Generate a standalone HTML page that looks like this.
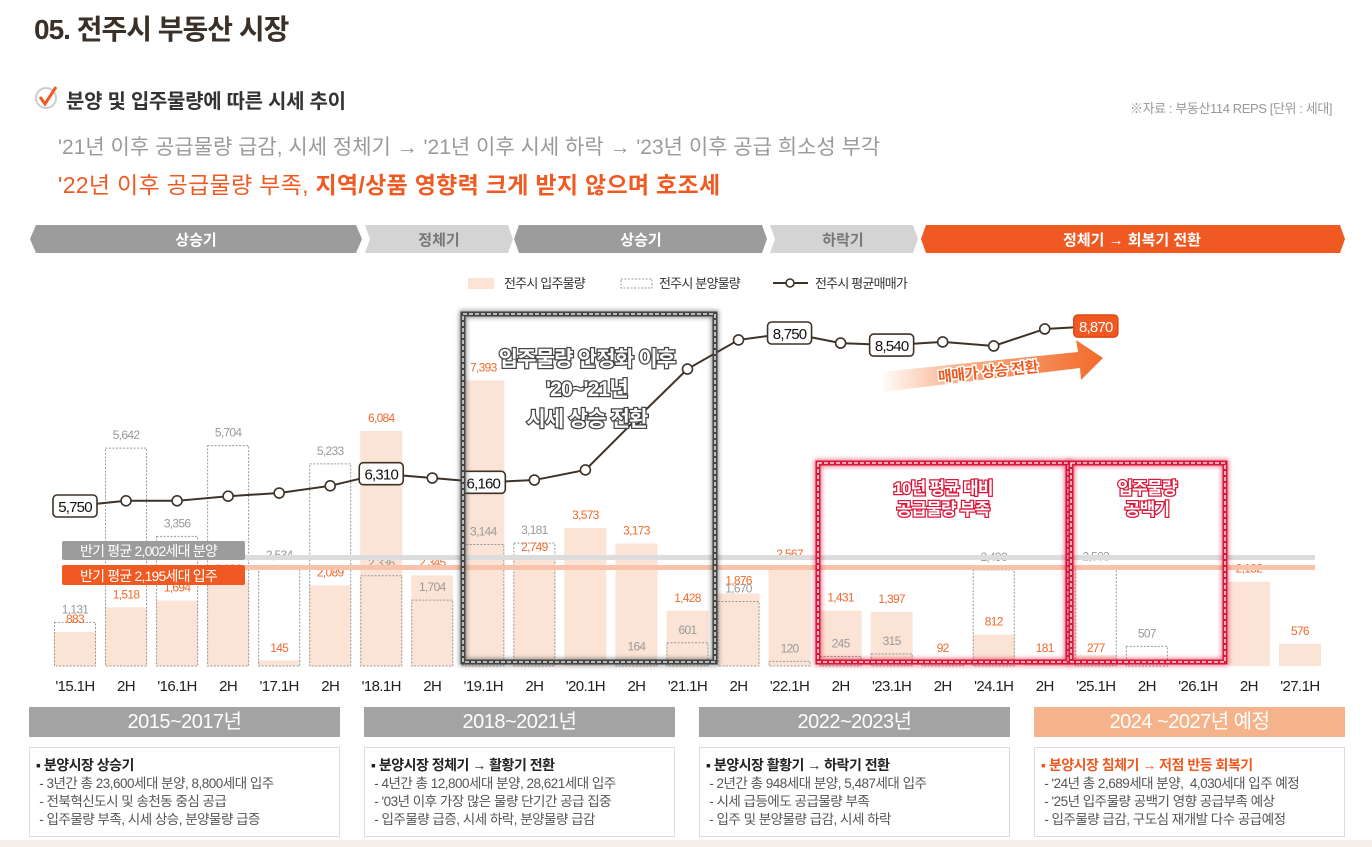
<!DOCTYPE html>
<html><head><meta charset="utf-8">
<style>
html,body{margin:0;padding:0;background:#fff;}
body{width:1372px;height:847px;position:relative;overflow:hidden;font-family:"Liberation Sans","Noto Sans CJK KR",sans-serif;}
.abs{position:absolute;white-space:nowrap;}
.hdr{position:absolute;top:707px;height:30px;line-height:30px;color:#fff;font-size:20px;text-align:center;background:#a3a3a3;letter-spacing:-0.5px;}
.box{position:absolute;top:747px;height:90px;border:1px solid #dcdcdc;box-sizing:border-box;padding:8px 0 0 6px;font-size:13.5px;line-height:18px;color:#555;letter-spacing:-0.5px;}
.box b{color:#222;font-size:14px;}
</style></head><body>
<div class="abs" style="left:34px;top:8px;font-size:28px;font-weight:bold;color:#3a3028;letter-spacing:-1px;">05. 전주시 부동산 시장</div>
<svg class="abs" style="left:34px;top:84px" width="28" height="28" viewBox="0 0 28 28"><circle cx="12" cy="14" r="10" fill="none" stroke="#ccc" stroke-width="2"/><path d="M6 13 L11 20 L22 3" fill="none" stroke="#f05a22" stroke-width="3"/></svg>
<div class="abs" style="left:66px;top:85px;font-size:20px;font-weight:bold;color:#333;letter-spacing:-0.3px;">분양 및 입주물량에 따른 시세 추이</div>
<div class="abs" style="left:1130px;top:98px;font-size:13px;color:#999;letter-spacing:-0.4px;">※자료 : 부동산114 REPS [단위 : 세대]</div>
<div class="abs" style="left:58px;top:131px;font-size:21px;color:#9a9a9a;letter-spacing:0px;">'21년 이후 공급물량 급감, 시세 정체기 → '21년 이후 시세 하락 → '23년 이후 공급 희소성 부각</div>
<div class="abs" style="left:58px;top:166px;font-size:23px;color:#f05a22;letter-spacing:0.3px;">'22년 이후 공급물량 부족, <b>지역/상품 영향력 크게 받지 않으며 호조세</b></div>

<svg class="abs" style="left:0;top:222px" width="1372" height="36">
<polygon points="36,3 356,3 362,17 356,31 36,31 30,17" fill="#9c9c9c"/>
<text x="196" y="23" fill="#fff" font-size="15" text-anchor="middle" font-weight="bold">상승기</text>
<polygon points="365,3 508,3 513,17 508,31 365,31 370,17" fill="#d4d4d4"/>
<text x="439" y="23" fill="#777" font-size="15" text-anchor="middle" font-weight="bold">정체기</text>
<polygon points="519,3 762,3 767,17 762,31 519,31 514,17" fill="#9c9c9c"/>
<text x="641" y="23" fill="#fff" font-size="15" text-anchor="middle" font-weight="bold">상승기</text>
<polygon points="770,3 913,3 918,17 913,31 770,31 775,17" fill="#d4d4d4"/>
<text x="843" y="23" fill="#777" font-size="15" text-anchor="middle" font-weight="bold">하락기</text>
<polygon points="926,3 1340,3 1345,17 1340,31 926,31 921,17" fill="#f05a22"/>
<text x="1132" y="23" fill="#fff" font-size="15" text-anchor="middle" font-weight="bold">정체기 → 회복기 전환</text>
</svg>

<svg class="abs" style="left:0;top:272px" width="1372" height="24">
<rect x="468" y="6" width="26" height="11" fill="#fbe3d5"/>
<text x="504" y="16" font-size="13" fill="#333" letter-spacing="-0.8">전주시 입주물량</text>
<rect x="621" y="7" width="31" height="9" fill="none" stroke="#999" stroke-dasharray="2,1.5"/>
<text x="659" y="16" font-size="13" fill="#333" letter-spacing="-0.8">전주시 분양물량</text>
<line x1="773" y1="11" x2="808" y2="11" stroke="#3e3226" stroke-width="2"/>
<circle cx="790" cy="11" r="4" fill="#fff" stroke="#3e3226" stroke-width="1.6"/>
<text x="815" y="16" font-size="13" fill="#333" letter-spacing="-0.8">전주시 평균매매가</text>
</svg>

<svg id="chart" class="abs" style="left:0;top:0" width="1372" height="700">
<defs>
<linearGradient id="arrowGrad" x1="0" x2="1" y1="0" y2="0"><stop offset="0" stop-color="#f57a3c" stop-opacity="0"/><stop offset="0.35" stop-color="#f57a3c" stop-opacity="0.6"/><stop offset="1" stop-color="#f26a2a"/></linearGradient>
<filter id="glowR"><feGaussianBlur stdDeviation="2.5"/></filter>
</defs>
<g id="bars"></g>
<g id="avg"></g>
<g id="line"></g>
<g id="boxes"></g>
<g id="xaxis"></g>
</svg>

<div class="hdr" style="left:29px;width:311px;">2015~2017년</div>
<div class="hdr" style="left:364px;width:311px;">2018~2021년</div>
<div class="hdr" style="left:699px;width:311px;">2022~2023년</div>
<div class="hdr" style="left:1034px;width:311px;background:#f4b38a;">2024 ~2027년 예정</div>

<div class="box" style="left:29px;width:311px;"><b>▪ 분양시장 상승기</b><br>&nbsp;- 3년간 총 23,600세대 분양, 8,800세대 입주<br>&nbsp;- 전북혁신도시 및 송천동 중심 공급<br>&nbsp;- 입주물량 부족, 시세 상승, 분양물량 급증</div>
<div class="box" style="left:364px;width:311px;"><b>▪ 분양시장 정체기 → 활황기 전환</b><br>&nbsp;- 4년간 총 12,800세대 분양, 28,621세대 입주<br>&nbsp;- '03년 이후 가장 많은 물량 단기간 공급 집중<br>&nbsp;- 입주물량 급증, 시세 하락, 분양물량 급감</div>
<div class="box" style="left:699px;width:311px;"><b>▪ 분양시장 활황기 → 하락기 전환</b><br>&nbsp;- 2년간 총 948세대 분양, 5,487세대 입주<br>&nbsp;- 시세 급등에도 공급물량 부족<br>&nbsp;- 입주 및 분양물량 급감, 시세 하락</div>
<div class="box" style="left:1034px;width:311px;"><b style="color:#f05a22">▪ 분양시장 침체기 → 저점 반등 회복기</b><br>&nbsp;- '24년 총 2,689세대 분양,&nbsp; 4,030세대 입주 예정<br>&nbsp;- '25년 입주물량 공백기 영향 공급부족 예상<br>&nbsp;- 입주물량 급감, 구도심 재개발 다수 공급예정</div>
<div class="abs" style="left:0;top:840px;width:1372px;height:7px;background:#f4efe8;"></div>

<script>
const categories = ["'15.1H","2H","'16.1H","2H","'17.1H","2H","'18.1H","2H","'19.1H","2H","'20.1H","2H","'21.1H","2H","'22.1H","2H","'23.1H","2H","'24.1H","2H","'25.1H","2H","'26.1H","2H","'27.1H"];
const moveIn = [883,1518,1694,2180,145,2089,6084,2345,7393,2749,3573,3173,1428,1876,2567,1431,1397,92,812,181,277,0,0,2182,576];
const presale = [1131,5642,3356,5704,2534,5233,2336,1704,3144,3181,0,164,601,1670,120,245,315,60,2490,0,2503,507,0,0,0];
const price = [5750,5840,5840,5920,5975,6100,6310,6235,6160,6200,6375,7260,8125,8630,8750,8575,8540,8595,8525,8820,8870];
const priceLabeled = [0,6,8,14,16,20];
const avgPresale = 2002;
const avgMoveIn = 2195;

const NS="http://www.w3.org/2000/svg";
function mk(tag,attrs,parent){const e=document.createElementNS(NS,tag);for(const k in attrs)e.setAttribute(k,attrs[k]);parent.appendChild(e);return e;}
const X0=75, DX=51.04, BASE=666, VS=235/6084;
const xAt=i=>X0+i*DX;
const yVol=v=>BASE-v*VS;
const yPrice=p=>506-(p-5750)*(173/3000);
const fmt=v=>v.toLocaleString('en-US');
const BW=42;

const gb=document.getElementById('bars');
moveIn.forEach((v,i)=>{
  if(v<=0)return;
  const r=mk('rect',{x:xAt(i)-BW/2,y:yVol(v),width:BW,height:v*VS,fill:'#fbe3d5'},gb);
  
  
});
presale.forEach((v,i)=>{
  if(v<=0)return;
  const r=mk('rect',{x:xAt(i)-BW/2+0.5,y:yVol(v),width:BW-1,height:v*VS,fill:'none',stroke:'#9a9a9a','stroke-width':1,'stroke-dasharray':'2,1.5'},gb);
  
  
});
presale.forEach((v,i)=>{
  if(v<=0||i===17)return;
  const t=mk('text',{x:xAt(i),y:yVol(v)-9,'font-size':12,fill:'#999','text-anchor':'middle','letter-spacing':'-0.7'},gb);
  t.textContent=fmt(v);
  
  
});
moveIn.forEach((v,i)=>{
  if(v<=0)return;
  let y=yVol(v)-9;
  if(v<300) y=BASE-14;
  const t=mk('text',{x:xAt(i),y:y,'font-size':12,fill:'#f06a2a','text-anchor':'middle','letter-spacing':'-0.7'},gb);
  t.textContent=fmt(v);
  
  
});

const ga=document.getElementById('avg');
mk('rect',{x:245,y:555,width:1070,height:5,fill:'#dcdcdc'},ga);
mk('rect',{x:245,y:565,width:1070,height:5,fill:'#f8c3aa'},ga);
const b1=mk('rect',{x:62,y:541,width:183,height:19,rx:2,fill:'#9c9c9c'},ga);


const t1=mk('text',{x:80,y:556,'font-size':14,fill:'#fff','letter-spacing':'-0.8'},ga);t1.textContent='반기  평균 '+fmt(avgPresale)+'세대 분양';
const b2=mk('rect',{x:62,y:565,width:183,height:20,rx:2,fill:'#f05a22'},ga);


const t2=mk('text',{x:80,y:581,'font-size':14,fill:'#fff','letter-spacing':'-0.8'},ga);t2.textContent='반기  평균 '+fmt(avgMoveIn)+'세대 입주';

const gl=document.getElementById('line');
const arrow=mk('polygon',{points:'880,372 1078,352 1076,340 1103,358 1081,380 1080,368 882,392',fill:'url(#arrowGrad)'},gl);


const at=mk('text',{x:988,y:377,'font-size':15,fill:'#f05a22','font-weight':'bold','text-anchor':'middle',transform:'rotate(-6 988 372)','letter-spacing':'-0.5',stroke:'#fff','stroke-width':3,'paint-order':'stroke'},gl);at.textContent='매매가 상승 전환';
const pts=price.map((p,i)=>xAt(i)+','+yPrice(p)).join(' ');
const pl=mk('polyline',{points:pts,fill:'none',stroke:'#3e3226','stroke-width':2},gl);


price.forEach((p,i)=>{
  const x=xAt(i),y=yPrice(p);
  if(priceLabeled.includes(i)){
    const last=i===price.length-1;
    const r=mk('rect',{x:x-22,y:y-11,width:44,height:22,rx:4,fill:last?'#f05a22':'#fff',stroke:last?'#e04a14':'#3e3226','stroke-width':1.6},gl);
    
    
    const t=mk('text',{x:x,y:y+6,'font-size':15,fill:last?'#fff':'#111','text-anchor':'middle','letter-spacing':'-0.8'},gl);
    t.textContent=fmt(p);
  } else {
    const c=mk('circle',{cx:x,cy:y,r:5,fill:'#fff',stroke:'#3e3226','stroke-width':1.6},gl);
    
    
  }
});

const gx=document.getElementById('boxes');
function hbox(x,y,w,h,color,name){
  mk('rect',{x:x,y:y,width:w,height:h,fill:'none',stroke:color,'stroke-width':7,filter:'url(#glowR)',opacity:0.6},gx);
  const r=mk('rect',{x:x,y:y,width:w,height:h,fill:'none',stroke:color,'stroke-width':5},gx);
  
  
  mk('rect',{x:x,y:y,width:w,height:h,fill:'none',stroke:'#fff','stroke-width':1.3,'stroke-dasharray':'4,2'},gx);
}
hbox(463,314,252,348,'#444','stabilization-highlight-box');
hbox(818,463,250,199,'#d8183a','shortage-highlight-box');
hbox(1071,463,154,199,'#d8183a','vacancy-highlight-box');
function otext(lines,cx,y0,lh,size,stroke,name){
  lines.forEach((s,k)=>{
    const t=mk('text',{x:cx,y:y0+k*lh,'font-size':size,'font-weight':'bold','text-anchor':'middle',fill:'#fff',stroke:stroke,'stroke-width':2.5,'paint-order':'stroke','letter-spacing':'-0.8'},gx);
    t.textContent=s;
    
    
  });
}
otext(['입주물량 안정화 이후',"'20~'21년",'시세 상승 전환'],587,366,30,21,'#444','stabilization-note');
otext(['10년 평균 대비','공급물량 부족'],943,494,21,17,'#d8183a','shortage-note');
otext(['입주물량','공백기'],1147,494,21,17,'#d8183a','vacancy-note');

const gxa=document.getElementById('xaxis');
categories.forEach((c,i)=>{
  const t=mk('text',{x:xAt(i),y:691,'font-size':15,fill:'#222','text-anchor':'middle','letter-spacing':'-0.6'},gxa);
  t.textContent=c;
  
  
});
</script>
</body></html>
